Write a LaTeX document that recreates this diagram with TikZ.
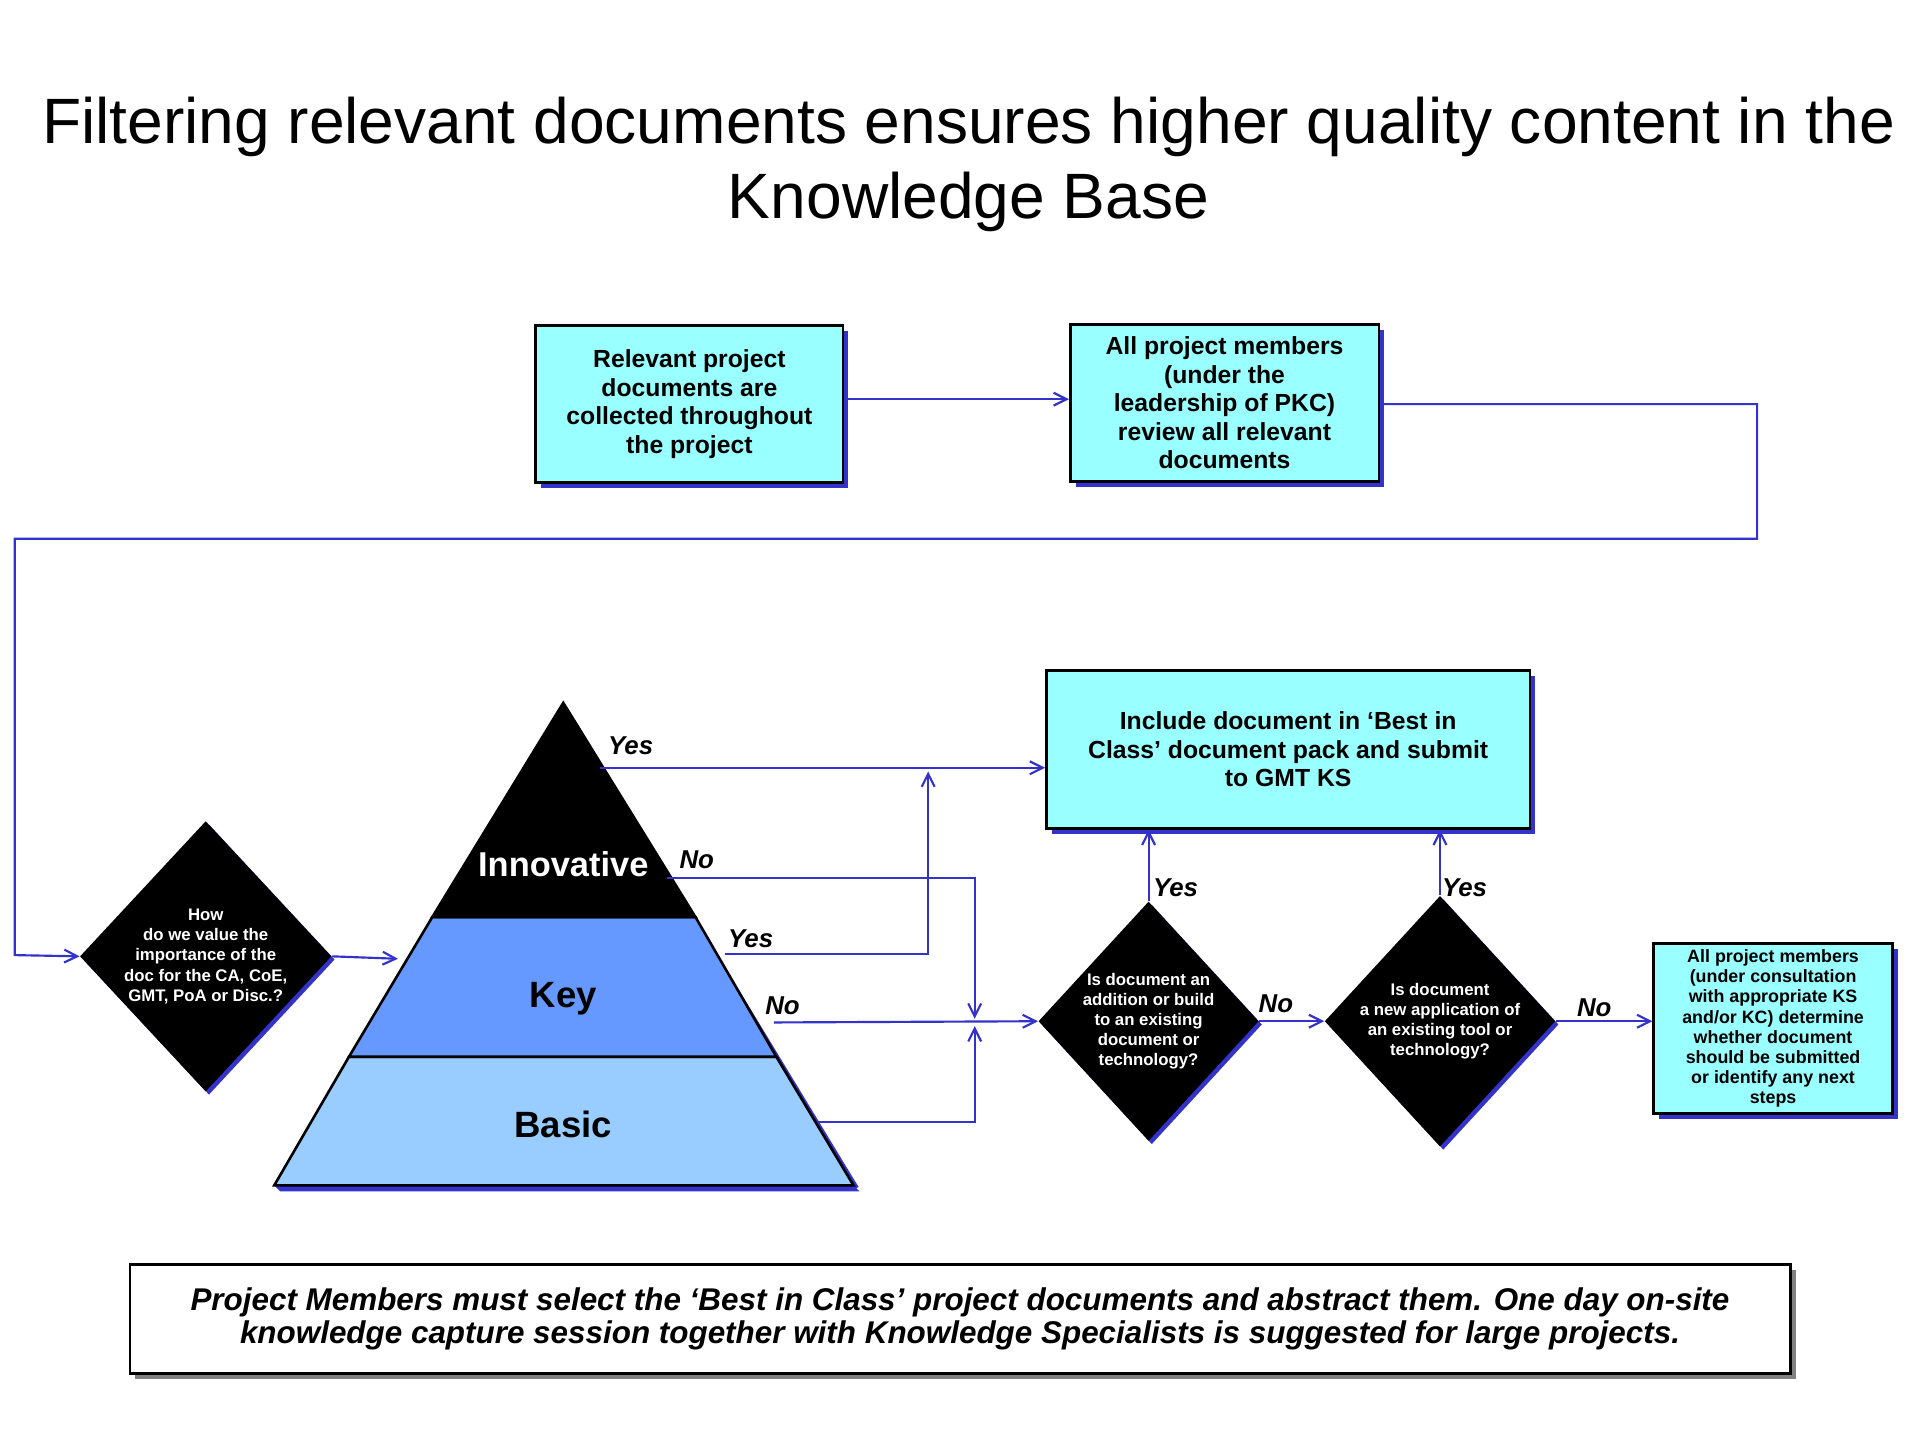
\documentclass[tikz,border=0pt]{standalone}
\usepackage{fontspec}
\setmainfont{Liberation Sans}
\usetikzlibrary{shapes.geometric,shadows,arrows.meta}
\definecolor{cy}{HTML}{99FFFF}
\definecolor{bl}{HTML}{3333CC}
\definecolor{keyc}{HTML}{6699FF}
\definecolor{basc}{HTML}{99CCFF}
\begin{document}
\begin{tikzpicture}[x=0.02cm,y=-0.02cm,
 box/.style={draw=black,line width=1.2pt,fill=cy,align=center,font=\bfseries,inner sep=2pt,
   drop shadow={fill=bl,opacity=1,shadow xshift=2.5pt,shadow yshift=-2.5pt}},
 dia/.style={diamond,fill=black,text=white,align=center,font=\bfseries\fontsize{7.8}{9.4}\selectfont,inner sep=0pt,
   drop shadow={fill=bl,opacity=1,shadow xshift=1.5pt,shadow yshift=-1.5pt}},
 con/.style={draw=bl,line width=1pt},
 arr/.style={con,-{Straight Barb[length=6pt,width=6pt]}},
 lab/.style={font=\bfseries\itshape\fontsize{12}{14}\selectfont}]
\useasboundingbox (0,0) rectangle (1568,1176);
\node[font=\fontsize{29.8}{35}\selectfont,align=center] (title) at (791,134) {Filtering relevant documents ensures higher quality content in the\\Knowledge Base};
\node[box,minimum width=251*0.02cm,minimum height=128*0.02cm,font=\bfseries\fontsize{11.5}{13.3}\selectfont] (b1) at (563,330) {Relevant project\\documents are\\collected throughout\\the project};
\node[box,minimum width=252*0.02cm,minimum height=128*0.02cm,font=\bfseries\fontsize{11.5}{13.3}\selectfont] (b2) at (1000,329) {All project members\\(under the\\leadership of PKC)\\review all relevant\\documents};
\node[box,minimum width=395*0.02cm,minimum height=129*0.02cm,font=\bfseries\fontsize{11.5}{13.3}\selectfont] (b3) at (1052,612) {Include document in ‘Best in\\Class’ document pack and submit\\to GMT KS};
\node[box,minimum width=195*0.02cm,minimum height=139*0.02cm,font=\bfseries\fontsize{8.3}{9.4}\selectfont] (b4) at (1448,840) {All project members\\(under consultation\\with appropriate KS\\and/or KC) determine\\whether document\\should be submitted\\or identify any next\\steps};
\node[draw=black,line width=1.2pt,fill=white,minimum width=1356*0.02cm,minimum height=89*0.02cm,align=center,font=\bfseries\itshape\fontsize{14.6}{15.5}\selectfont,
  drop shadow={fill=gray,opacity=1,shadow xshift=2.5pt,shadow yshift=-2.5pt}] (note) at (784,1077) {Project Members must select the ‘Best in Class’ project documents and abstract them. One day on-site\\knowledge capture session together with Knowledge Specialists is suggested for large projects.};
% diamonds
\node[dia,minimum width=195*0.02cm,minimum height=210*0.02cm,aspect=0.93] (d1) at (168,781) {How\\do we value the\\importance of the\\doc for the CA, CoE,\\GMT, PoA or Disc.?};
\node[dia,minimum width=177*0.02cm,minimum height=192*0.02cm,aspect=0.92] (d2) at (938,834) {Is document an\\addition or build\\to an existing\\document or\\technology?};
\node[dia,minimum width=177*0.02cm,minimum height=192*0.02cm,aspect=0.92] (d3) at (1176,834) {Is document\\a new application of\\an existing tool or\\technology?};
% pyramid
\fill[bl] (229,973) -- (702,973) -- (697,968) -- (224,968) -- cycle;
\draw[bl,line width=1.5pt] (462,578) -- (700,970);
\filldraw[fill=basc,draw=black,line width=1.2pt] (285,863) -- (634,863) -- (697,968) -- (224,968) -- cycle;
\filldraw[fill=keyc,draw=black,line width=1.2pt] (353,749) -- (568,749) -- (634,863) -- (285,863) -- cycle;
\filldraw[fill=black,draw=black,line width=1.2pt] (460,574) -- (568,749) -- (353,749) -- cycle;
\node[text=white,font=\bfseries\fontsize{16}{20}\selectfont] (inn) at (460,706) {Innovative};
\node[font=\bfseries\fontsize{17}{20}\selectfont] (key) at (460,816) {Key};
\node[font=\bfseries\fontsize{17}{20}\selectfont] (bas) at (460,918) {Basic};
\coordinate (pyr) at (325,783);
% connectors
\draw[arr] (b1.east |- 0,326) -- (b2.west |- 0,326);
\coordinate (c1) at (1435,330); \coordinate (c2) at (1435,440); \coordinate (c3) at (12,440); \coordinate (c4) at (12,780);
\draw[arr] (b2.east |- c1) -- (c1) -- (c2) -- (c3) -- (c4) -- (d1.west);
\draw[arr] (d1.east) -- (pyr);
\coordinate (y1) at (490,627);
\draw[arr] (y1) -- (b3.west |- y1);
\coordinate (n1) at (545,717); \coordinate (n1b) at (796,717); \coordinate (m1) at (796,832);
\draw[arr] (n1) -- (n1b) -- (m1);
\coordinate (y2) at (592,779); \coordinate (y2b) at (758,779); \coordinate (y2c) at (758,630);
\draw[arr] (y2) -- (y2b) -- (y2c);
\coordinate (n2) at (632,835);
\draw[arr] (n2) -- (d2.west);
\coordinate (bs) at (668,916); \coordinate (bsb) at (796,916); \coordinate (m2) at (796,838);
\draw[arr] (bs) -- (bsb) -- (m2);
\draw[arr] (d2.north) -- (d2.north |- b3.south);
\draw[arr] (d3.north) -- (d3.north |- b3.south);
\draw[arr] (d2.east) -- (d3.west);
\draw[arr] (d3.east) -- (b4.west |- d3.east);
% labels
\node[lab] (ly1) at (515,609) {Yes};
\node[lab] (ln1) at (569,702) {No};
\node[lab] (ly2) at (613,767) {Yes};
\node[lab] (ln2) at (639,821) {No};
\node[lab] (ly3) at (960,725) {Yes};
\node[lab] (ly4) at (1196,725) {Yes};
\node[lab] (ln3) at (1042,820) {No};
\node[lab] (ln4) at (1302,823) {No};
\end{tikzpicture}
\end{document}
